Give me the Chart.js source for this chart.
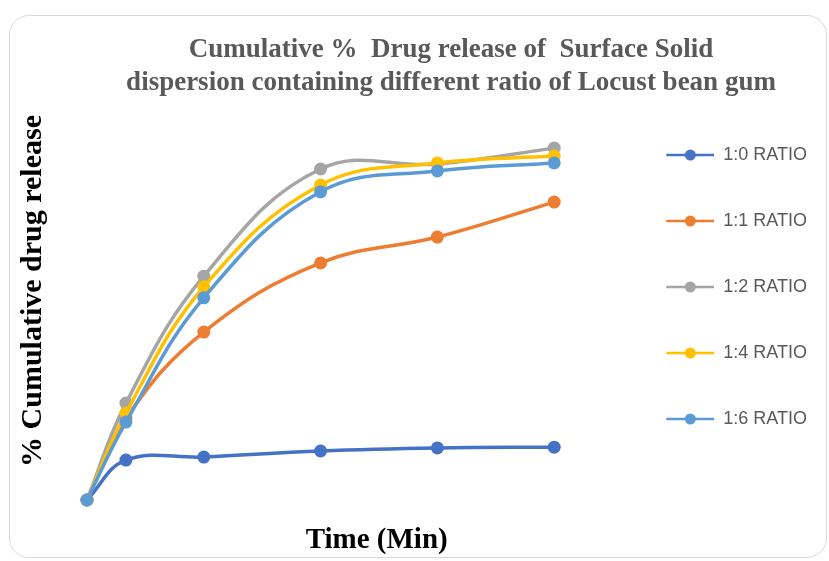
<!DOCTYPE html>
<html>
<head>
<meta charset="utf-8">
<script src="https://cdn.jsdelivr.net/npm/chart.js@4.4.1/dist/chart.umd.min.js"></script>
<style>
  html,body{margin:0;padding:0;background:#fff;}
  #wrap{position:relative;width:829px;height:561px;overflow:hidden;}
  #frame{position:absolute;left:9px;top:15px;width:816px;height:541px;border:1.5px solid #d9d9d9;border-radius:20px;}
  #chart{position:absolute;left:0;top:0;}
</style>
</head>
<body>
<div id="wrap">
  <div id="frame"></div>
  <canvas id="chart" width="829" height="561"></canvas>
</div>
<script>
/* ── DATA ── */
const times    = [0, 5, 15, 30, 45, 60];
const ratio1_0 = [0, 10.5, 11.3, 12.9, 13.7, 13.9];
const ratio1_1 = [0, 21.5, 44.2, 62.4, 69.2, 78.4];
const ratio1_2 = [0, 25.5, 58.9, 87.1, 88.4, 92.6];
const ratio1_4 = [0, 22.9, 56.1, 82.9, 88.7, 90.5];
const ratio1_6 = [0, 20.5, 53.2, 81.1, 86.6, 88.7];
const seriesNames  = ['1:0 RATIO', '1:1 RATIO', '1:2 RATIO', '1:4 RATIO', '1:6 RATIO'];
const seriesValues = [ratio1_0, ratio1_1, ratio1_2, ratio1_4, ratio1_6];
const seriesColors = ['#4472C4', '#ED7D31', '#A5A5A5', '#FFC000', '#5B9BD5'];

/* ── LEGEND MARKER (line with dot, like Excel) ── */
function marker(color){
  const c = document.createElement('canvas');
  c.width = 48; c.height = 14;
  const g = c.getContext('2d');
  g.strokeStyle = color; g.lineWidth = 2.5;
  g.beginPath(); g.moveTo(0, 7); g.lineTo(48, 7); g.stroke();
  g.fillStyle = color;
  g.beginPath(); g.arc(24, 7, 5.5, 0, Math.PI*2); g.fill();
  return c;
}

const datasets = seriesNames.map((name, i) => ({
  label: name,
  data: times.map((t, j) => ({x: t, y: seriesValues[i][j]})),
  borderColor: seriesColors[i],
  backgroundColor: seriesColors[i],
  borderWidth: 3.5,
  pointRadius: 6.5,
  pointBorderWidth: 0,
  tension: 0.4,
  clip: false,
  order: seriesNames.length - i   // last series drawn on top
}));

const serif = 'Liberation Serif, Times New Roman, serif';

new Chart(document.getElementById('chart'), {
  type: 'line',
  data: { datasets },
  options: {
    responsive: false,
    animation: false,
    layout: { padding: { left: 85, right: 12, top: 61, bottom: 0 } },
    plugins: {
      tooltip: { enabled: false },
      title: {
        display: true,
        text: ['Cumulative %  Drug release of  Surface Solid',
               'dispersion containing different ratio of Locust bean gum'],
        color: '#595959',
        font: { family: serif, size: 27, weight: 'bold', lineHeight: 33/27 },
        padding: { top: -27.5, bottom: -17.5 }
      },
      legend: {
        position: 'right',
        labels: {
          usePointStyle: true,
          pointStyleWidth: 48,
          padding: 0,
          color: '#595959',
          // tall line height gives the wide Excel spacing between entries
          font: { family: 'Liberation Sans, Arial, sans-serif', size: 18, lineHeight: 66/18 },
          generateLabels: chart => chart.data.datasets.map((ds, i) => ({
            text: [ds.label],
            pointStyle: marker(ds.borderColor),
            fillStyle: ds.borderColor,
            strokeStyle: ds.borderColor,
            lineWidth: 0,
            fontColor: '#595959',
            datasetIndex: i
          }))
        }
      }
    },
    scales: {
      x: {
        type: 'linear',
        min: 0, max: 74.4,
        grid: { display: false },
        border: { display: false },
        ticks: { display: false },
        title: {
          display: true, text: 'Time (Min)', color: '#000',
          font: { family: serif, size: 29, weight: 'bold' },
          padding: { top: 0, bottom: 2.6 }
        },
        afterFit: s => { s.height = 61; }
      },
      y: {
        min: 0, max: 110,
        grid: { display: false },
        border: { display: false },
        ticks: { display: false },
        title: {
          display: true, text: '% Cumulative drug release', color: '#000',
          font: { family: serif, size: 30, weight: 'bold' },
          padding: { top: -70, bottom: 0 }
        },
        afterFit: s => { s.width = 2; }
      }
    }
  }
});
</script>
</body>
</html>
